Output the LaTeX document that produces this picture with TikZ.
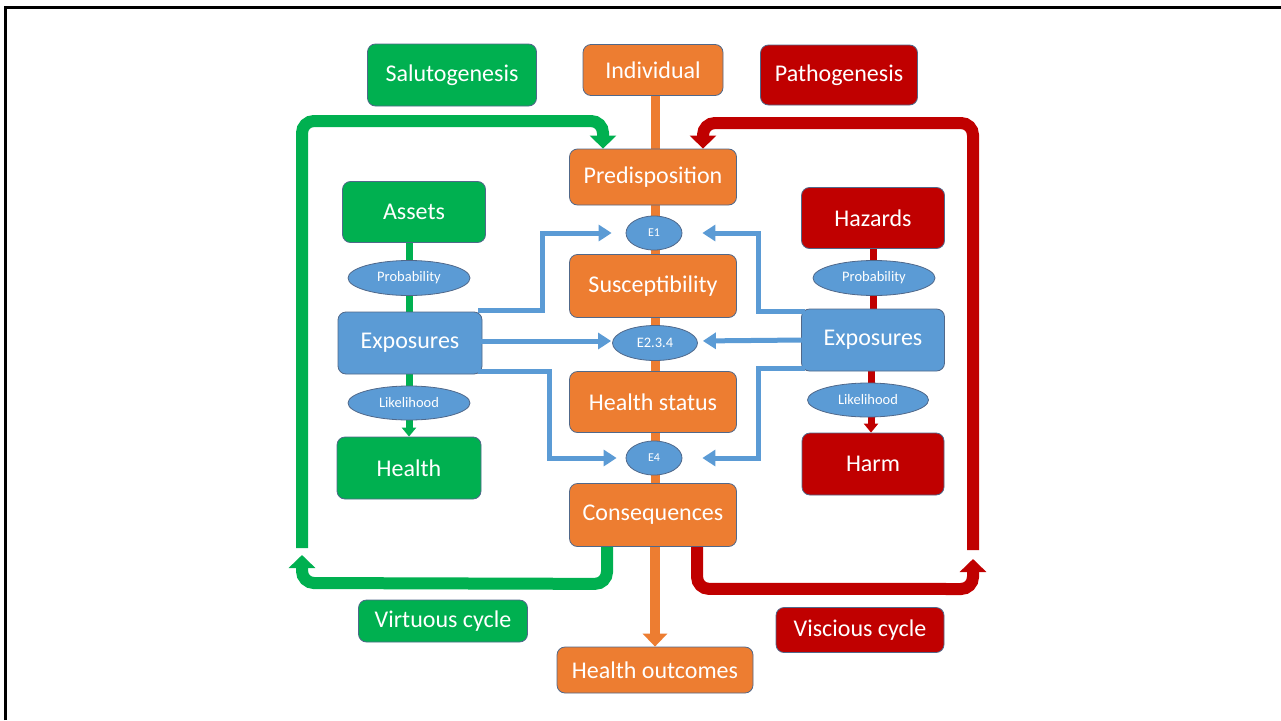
\documentclass[tikz,border=0pt]{standalone}
\usepackage{fontspec}
\setmainfont{Carlito}
\usetikzlibrary{arrows.meta,calc,backgrounds,shapes.geometric}
\definecolor{cgreen}{HTML}{00B050}
\definecolor{corange}{HTML}{ED7D31}
\definecolor{cred}{HTML}{C00000}
\definecolor{cblue}{HTML}{5B9BD5}
\definecolor{cedge}{HTML}{50688A}
\tikzset{
  box/.style={rounded corners=8pt, draw=cedge, line width=0.8pt, text=white,
    font=\fontsize{24}{28}\selectfont, inner sep=0pt, anchor=center},
  gbox/.style={box, fill=cgreen},
  obox/.style={box, fill=corange},
  rbox/.style={box, fill=cred},
  bbox/.style={box, fill=cblue},
  ell/.style={ellipse, draw=cedge, line width=0.8pt, fill=cblue, text=white,
    inner sep=0pt, font=\fontsize{14.5}{16}\selectfont},
  smallell/.style={ell, font=\fontsize{12}{14}\selectfont},
  barrow/.style={draw=cblue, line width=5pt, -{Triangle[width=16pt,length=13pt]}},
  bigloop/.style={line width=12pt, rounded corners=12pt},
}
\begin{document}
\begin{tikzpicture}[x=1pt,y=-1pt]
\useasboundingbox (0,0) rectangle (1281,720);

% nodes
\node[gbox, minimum width=169pt, minimum height=62pt] (sal) at (452,75) {Salutogenesis};
\node[obox, minimum width=140pt, minimum height=51pt] (ind) at (653,70) {Individual};
\node[rbox, minimum width=157pt, minimum height=60pt] (path) at (839,75) {Pathogenesis};
\node[obox, minimum width=167pt, minimum height=56pt] (pre) at (653,177) {Predisposition};
\node[gbox, minimum width=143pt, minimum height=61pt] (assets) at (414,212) {Assets};
\node[rbox, minimum width=143pt, minimum height=61pt] (haz) at (873,218) {Hazards};
\node[smallell, minimum width=56pt, minimum height=34pt] (e1) at (654,233) {E1};
\node[ell, minimum width=122pt, minimum height=35pt] (probL) at (409,278) {Probability};
\node[ell, minimum width=122pt, minimum height=35pt] (probR) at (874,278) {Probability};
\node[obox, minimum width=167pt, minimum height=63pt] (sus) at (653,286) {Susceptibility};
\node[bbox, minimum width=144pt, minimum height=62pt] (expL) at (410,343) {Exposures};
\node[bbox, minimum width=143pt, minimum height=62pt] (expR) at (873,340) {Exposures};
\node[ell, minimum width=85pt, minimum height=35pt] (e234) at (655,343) {E2.3.4};
\node[obox, minimum width=167pt, minimum height=61pt] (hst) at (653,402) {Health status};
\node[ell, minimum width=122pt, minimum height=34pt] (likL) at (409,403) {Likelihood};
\node[ell, minimum width=121pt, minimum height=34pt] (likR) at (868,400) {Likelihood};
\node[gbox, minimum width=144pt, minimum height=62pt] (health) at (409,468) {Health};
\node[rbox, minimum width=142pt, minimum height=62pt] (harm) at (873,464) {Harm};
\node[smallell, minimum width=56pt, minimum height=34pt] (e4) at (654,458) {E4};
\node[obox, minimum width=167pt, minimum height=63pt] (cons) at (653,515) {Consequences};
\node[obox, minimum width=196pt, minimum height=46pt] (hout) at (655,670) {Health outcomes};
\node[gbox, minimum width=169pt, minimum height=42pt] (virt) at (443,621) {Virtuous cycle};
\node[rbox, minimum width=168pt, minimum height=45pt] (visc) at (860,630) {Viscious cycle};

\coordinate (gup) at (302,548);
\coordinate (rup) at (973,550);
\coordinate (gx) at (603,0);
\coordinate (rx) at (703,0);
\coordinate (ox) at (655,0);

\begin{scope}[on background layer]
  \fill[white] (0,0) rectangle (1281,720);
  \draw[line width=3pt] (5.5,720) -- (5.5,7.5) -- (1281,7.5);
  % central orange spine
  \draw[corange, line width=9pt] (ind.center -| ox) -- (cons.center -| ox);
  % green chain
  \draw[cgreen, line width=7pt] (assets.center -| health.center) -- (expL.center -| health.center);
  \draw[cgreen, line width=7pt, -{Triangle[width=14pt,length=9pt]}] (expL.center -| health.center) -- (health.north);
  % red chain
  \draw[cred, line width=7pt] (haz.center) -- (expR.center);
  \draw[cred, line width=7pt, -{Triangle[width=14pt,length=9pt]}] ($(expR.center)+(-2,0)$) -- ($(harm.north)+(-2,0)$);
\end{scope}

% orange arrow to outcomes
\draw[corange, line width=10pt, -{Triangle[width=24pt,length=13pt]}] (cons.south -| ox) -- (hout.north -| ox);

% blue arrows
\draw[barrow, shorten >=14pt] ($(expL.north east)+(-4,-1)$) -| ($(e1.west)+(-83,0)$) -- (e1.west);
\draw[barrow, shorten >=1pt] ($(expL.east)+(-2,-2)$) -- ($(e234.west)+(0,-2)$);
\draw[barrow, shorten >=9pt] ($(expL.south east)+(-4,-3)$) -| ($(e4.west)+(-76,0)$) -- (e4.west);
\draw[barrow, shorten >=20pt] ($(expR.north west)+(4,3)$) -| ($(e1.east)+(76,0)$) -- (e1.east);
\draw[barrow, shorten >=5pt] ($(expR.west)+(2,0)$) -- ($(e234.east)+(0,-2)$);
\draw[barrow, shorten >=20pt] ($(expR.south west)+(4,-3)$) -| ($(e4.east)+(76,0)$) -- (e4.east);

% green loop
\draw[cgreen, bigloop, -{Triangle[width=26pt,length=13pt]}]
  ($(cons.south)+(-46,0)$) -- ($(cons.south)+(-46,37)$) -- (302,583) -- (302,555);
\draw[cgreen, bigloop, -{Triangle[width=26pt,length=13pt]}]
  (gup) -- (302,121) -- (603,121) -- (pre.north -| gx);
% red loop
\draw[cred, bigloop, -{Triangle[width=26pt,length=13pt]}]
  ($(cons.south)+(44,0)$) -- ($(cons.south)+(44,42)$) -- (973,589) -- (973,559);
\draw[cred, bigloop, -{Triangle[width=26pt,length=13pt]}]
  (rup) -- (973,123) -- (703,123) -- (pre.north -| rx);
\end{tikzpicture}
\end{document}
